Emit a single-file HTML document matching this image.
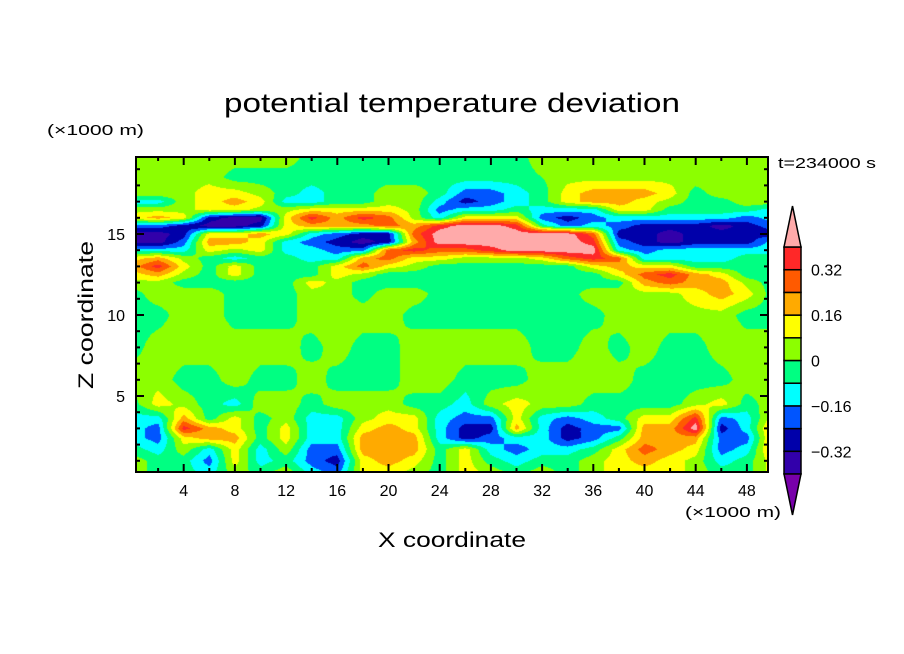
<!DOCTYPE html>
<html><head><meta charset="utf-8">
<style>
html,body{margin:0;padding:0;background:#fff;}
#wrap{position:relative;width:904px;height:654px;overflow:hidden;background:#fff;}
#field{position:absolute;left:136px;top:157px;}
#overlay{position:absolute;left:0;top:0;}
text{font-family:"Liberation Sans",sans-serif;fill:#000;}
</style></head>
<body>
<div id="wrap">
<canvas id="field" width="632" height="315"></canvas>
<svg id="overlay" width="904" height="654">
  <text x="452" y="112" text-anchor="middle" font-size="27" textLength="456" lengthAdjust="spacingAndGlyphs">potential temperature deviation</text>
  <text x="47" y="135" font-size="15" textLength="97" lengthAdjust="spacingAndGlyphs">(×1000 m)</text>
  <text x="778" y="168" font-size="15" textLength="98" lengthAdjust="spacingAndGlyphs">t=234000 s</text>
  <text x="685" y="517" font-size="15" textLength="96" lengthAdjust="spacingAndGlyphs">(×1000 m)</text>
  <text x="452" y="547" text-anchor="middle" font-size="21" textLength="148" lengthAdjust="spacingAndGlyphs">X coordinate</text>
  <text transform="translate(93,315) rotate(-90)" text-anchor="middle" font-size="21" textLength="148" lengthAdjust="spacingAndGlyphs">Z coordinate</text>
  <g id="axes"></g>
  <g id="cbar"></g>
</svg>
</div>
<script>
// value codes (contour level midpoints)
const G=0.05,S=-0.04,Y=0.12,O=0.2,R=0.28,D=0.36,P=0.45,C=-0.12,B=-0.2,K=-0.28,I=-0.36,U=-0.45;
// data grid: x (×1000 m) columns, z (×1000 m) rows top->bottom
const xGrid=[0,2,4,6,8,10,12,14,16,18,20,22,24,26,28,30,32,34,36,38,40,42,44,46,48,50];
const zGrid=[19.75,18.5,17.5,17,16.5,16,15.5,15,14.5,14,13.5,13,12.5,12,11.3,10,8,6,4.5,3.6,3,2.4,1.7,1,0.3];
const field=[
[G,G,G,G,G,G,G,S,S,S,S,S,S,S,S,S,G,G,G,G,G,G,G,G,G,G],
[G,G,G,G,S,S,S,S,S,S,S,S,S,S,S,S,0,G,G,G,G,G,G,G,G,G],
[G,G,G,Y,Y,G,S,C,S,S,G,G,S,B,B,C,S,Y,O,O,O,Y,S,G,G,G],
[C,C,G,Y,O,Y,C,C,S,S,G,G,C,K,B,C,S,Y,O,O,Y,G,S,S,G,G],
[G,G,G,Y,Y,G,G,Y,Y,Y,Y,G,B,C,C,S,C,C,C,Y,Y,S,S,S,S,C],
[Y,O,Y,K,I,I,Y,D,O,D,R,G,C,Y,Y,Y,B,K,B,C,C,C,C,C,B,C],
[B,B,K,I,I,K,Y,O,O,O,R,O,D,P,P,D,S,B,C,B,K,K,K,I,K,B],
[I,I,K,Y,Y,O,Y,C,B,K,K,R,P,P,P,P,P,P,R,K,K,I,K,K,K,K],
[I,I,B,O,O,Y,C,B,K,I,K,O,P,P,P,P,P,P,D,B,K,I,K,K,K,C],
[C,C,C,Y,G,Y,C,C,B,B,R,D,R,R,D,P,P,P,P,C,B,C,C,C,C,C],
[Y,O,G,S,C,S,S,C,C,O,R,Y,Y,G,G,G,Y,R,D,R,C,C,C,C,S,S],
[O,D,Y,S,Y,S,S,S,Y,R,Y,G,S,S,S,S,S,S,Y,O,Y,Y,S,S,S,S],
[Y,O,G,S,Y,S,S,S,Y,G,S,S,S,S,S,S,S,S,S,Y,R,D,O,Y,S,S],
[G,G,S,S,S,S,S,Y,G,S,S,S,S,S,S,S,S,S,S,S,O,R,O,O,G,S],
[S,G,G,G,S,S,S,G,G,S,G,G,S,S,S,S,S,S,G,G,G,G,Y,O,Y,S],
[S,S,G,G,S,S,S,G,G,G,G,S,S,S,S,S,S,S,S,G,G,G,G,G,S,S],
[S,G,G,G,G,G,G,S,G,S,S,G,G,G,G,G,S,S,G,S,G,S,S,G,G,G],
[G,G,S,S,G,S,S,G,S,S,S,G,G,S,S,S,G,G,G,G,S,S,S,S,G,G],
[S,Y,G,S,C,G,G,S,G,G,G,S,S,C,G,Y,G,G,S,S,S,S,G,Y,S,G],
[C,C,O,S,Y,S,G,C,C,G,Y,Y,C,B,B,Y,C,B,C,S,Y,Y,D,B,C,Y],
[C,B,D,O,Y,S,Y,C,C,Y,O,Y,C,K,K,O,C,K,B,B,O,O,P,K,C,O],
[C,B,Y,O,O,S,Y,C,C,O,O,O,C,K,B,C,C,K,B,S,O,O,O,B,B,O],
[S,C,G,C,Y,C,G,B,B,O,O,O,S,Y,C,B,C,C,S,Y,R,O,Y,B,C,O],
[G,S,S,B,Y,C,S,B,K,Y,O,Y,S,Y,S,C,S,S,G,Y,O,Y,G,C,S,Y],
[G,S,S,C,G,S,G,C,B,Y,Y,G,S,Y,G,S,G,S,G,Y,Y,Y,G,S,S,Y]
];
const levels=[-0.4,-0.32,-0.24,-0.16,-0.08,0,0.08,0.16,0.24,0.32,0.4];
const colors=["#7800aa","#3200aa","#0000aa","#0055ff","#00ffff","#00ff82","#8cff00","#ffff00","#ffaa00","#ff5a00","#ff2828","#ffaaaa"];
const xTicks=[4,8,12,16,20,24,28,32,36,40,44,48];
const zTicks=[5,10,15];
const cbarLabels=["0.32","0.16","0","\u22120.16","\u22120.32"];
const cbarLabelVals=[0.32,0.16,0,-0.16,-0.32];

// axis functions
const PL=136,PR=768,PT=157,PB=472;
const sx=x=>132.5+12.8*x;
const sz=z=>477-16.2*z;
const ix=px=>(px-132.5)/12.8;
const iz=py=>(477-py)/16.2;

function hexRgb(h){return [parseInt(h.substr(1,2),16),parseInt(h.substr(3,2),16),parseInt(h.substr(5,2),16)];}
const rgb=colors.map(hexRgb);
function bin(v){let k=0;while(k<levels.length&&v>=levels[k])k++;return k;}
function sample(x,z){
  let xi=(x-xGrid[0])/(xGrid[1]-xGrid[0]);
  xi=Math.max(0,Math.min(xGrid.length-1.0001,xi));
  const i0=Math.floor(xi),fx=xi-i0;
  let j0=0;
  if(z>=zGrid[0]){j0=0;}
  else if(z<=zGrid[zGrid.length-1]){j0=zGrid.length-2;}
  else{for(let j=0;j<zGrid.length-1;j++){if(z<=zGrid[j]&&z>=zGrid[j+1]){j0=j;break;}}}
  let fz=(zGrid[j0]-z)/(zGrid[j0]-zGrid[j0+1]);fz=Math.max(0,Math.min(1,fz));
  const a=field[j0][i0],b=field[j0][i0+1],c=field[j0+1][i0],d=field[j0+1][i0+1];
  return (a*(1-fx)+b*fx)*(1-fz)+(c*(1-fx)+d*fx)*fz;
}
const cv=document.getElementById('field');
const ctx=cv.getContext('2d');
const img=ctx.createImageData(cv.width,cv.height);
for(let j=0;j<cv.height;j++){
  const z=iz(PT+j+0.5);
  for(let i=0;i<cv.width;i++){
    const x=ix(PL+i+0.5);
    const c=rgb[bin(sample(x,z))];
    const o=(j*cv.width+i)*4;
    img.data[o]=c[0];img.data[o+1]=c[1];img.data[o+2]=c[2];img.data[o+3]=255;
  }
}
ctx.putImageData(img,0,0);

const NS="http://www.w3.org/2000/svg";
function mk(tag,attrs,parent){const e=document.createElementNS(NS,tag);for(const k in attrs)e.setAttribute(k,attrs[k]);parent.appendChild(e);return e;}
const axes=document.getElementById('axes');
// minor x ticks every 2
for(let x=2;x<50;x+=2){
  const major=x%4===0;const L=major?8:4;const X=sx(x);
  const t1=mk('line',{x1:X,y1:PB,x2:X,y2:PB-L,stroke:'#000','stroke-width':2},axes);
  
  
  const t2=mk('line',{x1:X,y1:PT,x2:X,y2:PT+L,stroke:'#000','stroke-width':2},axes);
  
  
}
for(let z=1;z<20;z++){
  const major=z%5===0;const L=major?8:4;const Yp=sz(z);
  if(Yp<PT||Yp>PB)continue;
  const t1=mk('line',{x1:PL,y1:Yp,x2:PL+L,y2:Yp,stroke:'#000','stroke-width':2},axes);
  
  
  const t2=mk('line',{x1:PR,y1:Yp,x2:PR-L,y2:Yp,stroke:'#000','stroke-width':2},axes);
  
  
}
xTicks.forEach(v=>{
  const t=mk('text',{x:sx(v),y:496,'text-anchor':'middle','font-size':16},axes);
  t.textContent=String(v);
  
  
});
zTicks.forEach(v=>{
  const t=mk('text',{x:125,y:sz(v)+6,'text-anchor':'end','font-size':16},axes);
  t.textContent=String(v);
  
  
});
const frame=mk('rect',{x:PL,y:PT,width:PR-PL,height:PB-PT,fill:'none',stroke:'#000','stroke-width':2},axes);



// colorbar
const cb=document.getElementById('cbar');
const CX0=784,CX1=801,CTOP=247,BH=22.7,nBox=levels.length-1;
const cy=v=>CTOP+(levels[levels.length-1]-v)/(levels[1]-levels[0])*BH;
for(let k=0;k<nBox;k++){
  const lo=levels[k],hi=levels[k+1];
  const r=mk('rect',{x:CX0,y:cy(hi),width:CX1-CX0,height:cy(lo)-cy(hi),fill:colors[k+1],stroke:'#000','stroke-width':1.5},cb);
  
  
}
const ytop=cy(levels[levels.length-1]),ybot=cy(levels[0]),mx=(CX0+CX1)/2;
const tt=mk('polygon',{points:`${CX0},${ytop} ${CX1},${ytop} ${mx},${ytop-41}`,fill:colors[colors.length-1],stroke:'#000','stroke-width':1.5},cb);


const tb=mk('polygon',{points:`${CX0},${ybot} ${CX1},${ybot} ${mx},${ybot+41}`,fill:colors[0],stroke:'#000','stroke-width':1.5},cb);


cbarLabelVals.forEach((v,i)=>{
  const t=mk('text',{x:811,y:cy(v)+6,'font-size':16},cb);
  t.textContent=cbarLabels[i];
  
  
});
</script>
</body></html>
